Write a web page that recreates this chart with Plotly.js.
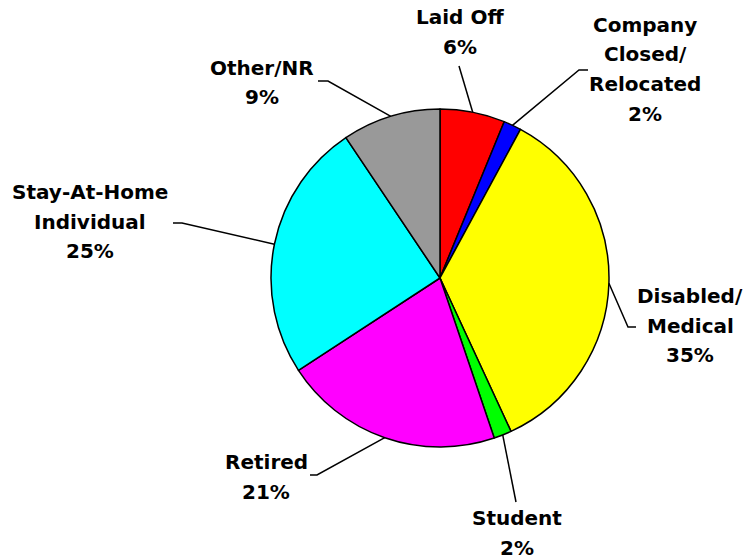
<!DOCTYPE html>
<html>
<head>
<meta charset="utf-8">
<script src="https://cdn.plot.ly/plotly-3.0.1.min.js"></script>
<style>
  html, body { margin: 0; padding: 0; background: #fff; }
  #chart { width: 743px; height: 560px; }
</style>
</head>
<body>
<div id="chart"></div>
<script>
// slice data, clockwise from 12 o'clock
const labels = ['Laid Off', 'Company Closed/ Relocated', 'Disabled/ Medical', 'Student', 'Retired', 'Stay-At-Home Individual', 'Other/NR'];
const labelLines = [['Laid Off'], ['Company', 'Closed/', 'Relocated'], ['Disabled/', 'Medical'], ['Student'], ['Retired'], ['Stay-At-Home', 'Individual'], ['Other/NR']];
const values = [6.2, 1.7, 35.2, 1.7, 21.0, 24.8, 9.4];
const colors = ['#ff0000', '#0000ff', '#ffff00', '#00ff00', '#ff00ff', '#00ffff', '#999999'];

const W = 743, H = 560;
const cx = 440, cy = 278, R = 169;   // pie placement in px

// where each label sits and how its leader bends (px)
const labelPos = [
  { x: 460, y: 17, elbow: [459, 66], tail: null },
  { x: 645, y: 25, elbow: [579, 70], tail: 588 },
  { x: 690, y: 296, elbow: [628, 327], tail: 636 },
  { x: 517, y: 518, elbow: [516, 502], tail: null },
  { x: 266, y: 462, elbow: [317, 475], tail: 310 },
  { x: 90, y: 192, elbow: [182, 223], tail: 173 },
  { x: 262, y: 68, elbow: [328, 81], tail: 318 }
];
const lineGap = 29.5;

const px = x => x / W;
const py = y => 1 - y / H;

const total = values.reduce((a, b) => a + b, 0);
let annotations = [];
let shapes = [];
let cum = 0;

values.forEach((v, i) => {
  // mid angle of slice, measured clockwise from top
  const mid = (cum + v / 2) / total * 2 * Math.PI;
  cum += v;
  const ex = cx + R * Math.sin(mid);
  const ey = cy - R * Math.cos(mid);
  const p = labelPos[i];

  let path = `M ${px(ex)},${py(ey)} L ${px(p.elbow[0])},${py(p.elbow[1])}`;
  if (p.tail !== null) path += ` L ${px(p.tail)},${py(p.elbow[1])}`;
  shapes.push({
    type: 'path', xref: 'paper', yref: 'paper', path: path,
    line: { color: '#000', width: 1.5 }
  });

  const lines = labelLines[i].concat([Math.round(v) + '%']);
  lines.forEach((t, k) => {
    annotations.push({
      xref: 'paper', yref: 'paper',
      x: px(p.x), y: py(p.y + k * lineGap),
      xanchor: 'center', yanchor: 'middle',
      text: t, showarrow: false,
      font: { family: 'DejaVu Sans', size: 20, color: '#000', weight: 'bold' }
    });
  });
});

const trace = {
  type: 'pie',
  labels: labels,
  values: values,
  sort: false,
  direction: 'clockwise',
  rotation: 0,
  textinfo: 'none',
  hoverinfo: 'label+percent',
  marker: { colors: colors, line: { color: '#000', width: 1.5 } },
  domain: { x: [px(cx - R), px(cx + R)], y: [py(cy + R), py(cy - R)] }
};

const layout = {
  width: W, height: H,
  margin: { t: 0, b: 0, l: 0, r: 0 },
  showlegend: false,
  paper_bgcolor: '#fff',
  annotations: annotations,
  shapes: shapes
};

Plotly.newPlot('chart', [trace], layout, { displayModeBar: false });
</script>
</body>
</html>
